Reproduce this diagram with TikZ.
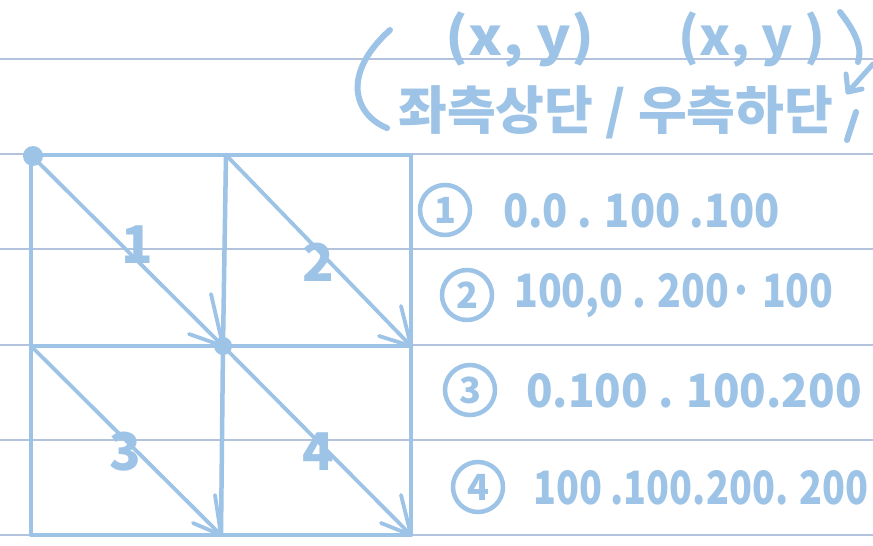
\documentclass[tikz,border=0pt]{standalone}
\usepackage{fontspec}
\setmainfont{Noto Sans CJK KR}
\newcommand\sqz[2]{\scalebox{#1}[1]{#2}}
\begin{document}
\begin{tikzpicture}[x=1pt,y=-1pt,
  ruleline/.style={rulec,line width=1.3pt},
  gridline/.style={ink,line width=4.5pt,line cap=round,line join=round},
  arr/.style={ink,line width=3.8pt,line cap=round,line join=round},
  pen/.style={ink,line width=6pt,line cap=round,line join=round},
  txt/.style={ink,inner sep=0pt,font=\fontsize{46}{46}\selectfont\bfseries},
  lbl/.style={ink,inner sep=0pt,font=\fontsize{52}{52}\selectfont\bfseries},
  kor/.style={ink,inner sep=0pt,font=\fontsize{52}{52}\selectfont\bfseries},
  circnum/.style={ink,draw,circle,line width=4.5pt,minimum size=50pt,inner sep=0pt,font=\fontsize{36}{36}\selectfont\bfseries}]
\definecolor{ink}{HTML}{9DC3E6}
\definecolor{rulec}{HTML}{B3C3DD}
\useasboundingbox (0,0) rectangle (873,546);
\fill[white] (0,0) rectangle (873,546);
% ruled paper
\foreach \yy in {59,154,249,345,440,535} \draw[ruleline] (0,\yy) -- (873,\yy);
% grid points
\coordinate (tl) at (31,155);
\coordinate (tm) at (226,155);
\coordinate (tr) at (411,155);
\coordinate (ml) at (31,346);
\coordinate (mm) at (223,346);
\coordinate (mr) at (411,346);
\coordinate (bl) at (31,535);
\coordinate (bm) at (221,535);
\coordinate (br) at (411,535);
\draw[gridline] (tl) -- (tr) -- (br) -- (bl) -- cycle;
\draw[gridline] (tm) -- (mm) -- (bm);
\draw[gridline] (ml) -- (mm) -- (mr);
% diagonals with hand-drawn heads
\draw[arr] (tl) -- (mm);
\draw[arr] (mm) ++(-12,-52) -- (mm) -- ++(-34,-12);
\draw[arr] (tm) -- (mr);
\draw[arr] (mr) ++(-10,-40) -- (mr) -- ++(-32,-10);
\draw[arr] (ml) -- (bm);
\draw[arr] (bm) ++(-6,-40) -- (bm) -- ++(-28,-12);
\draw[arr] (mm) -- (br);
\draw[arr] (br) ++(-10,-40) -- (br) -- ++(-30,-12);
\fill[ink] (33,156) circle (10);
\fill[ink] (mm) circle (9);
% region labels
\node[lbl] (n1) at (137,245) {1};
\node[lbl] (n2) at (318,262) {2};
\node[lbl] (n3) at (125,452) {3};
\node[lbl] (n4) at (318,452) {4};
% coordinates list
\node[circnum] (c1) at (445,210) {1};
\node[txt,anchor=west] (r1) at (503,211) {\sqz{0.9}{0.0 . 100 .100}};
\node[circnum] (c2) at (467,295) {2};
\node[txt,anchor=west] (r2) at (514,296) {\sqz{0.85}{100,0 . 200· 100}};
\node[circnum] (c3) at (470,390) {3};
\node[txt,anchor=west] (r3) at (526,391) {\sqz{0.95}{0.100 . 100.200}};
\node[circnum] (c4) at (478,487) {4};
\node[txt,anchor=west] (r4) at (533,488) {\sqz{0.82}{100 .100.200. 200}};
% header
\node[kor] (xy1) at (520,40) {\sqz{1.1}{(x, y)}};
\node[kor] (xy2) at (752,40) {(x, y )};
\node[kor,anchor=west] (kr) at (398,112) {\sqz{1.02}{좌측상단 / 우측하단}};
\draw[pen] (390,30) .. controls (340,75) and (355,115) .. (387,128);
\draw[pen] (840,12) .. controls (858,35) and (862,50) .. (858,62);
\coordinate (aend) at (848,92);
\coordinate (astart) at (873,64);
\draw[pen,line width=5pt] (astart) -- (aend);
\draw[pen,line width=5pt] (846,74) -- (aend) -- (862,89);
\draw[pen] (856,112) -- (847,140);
\end{tikzpicture}
\end{document}
